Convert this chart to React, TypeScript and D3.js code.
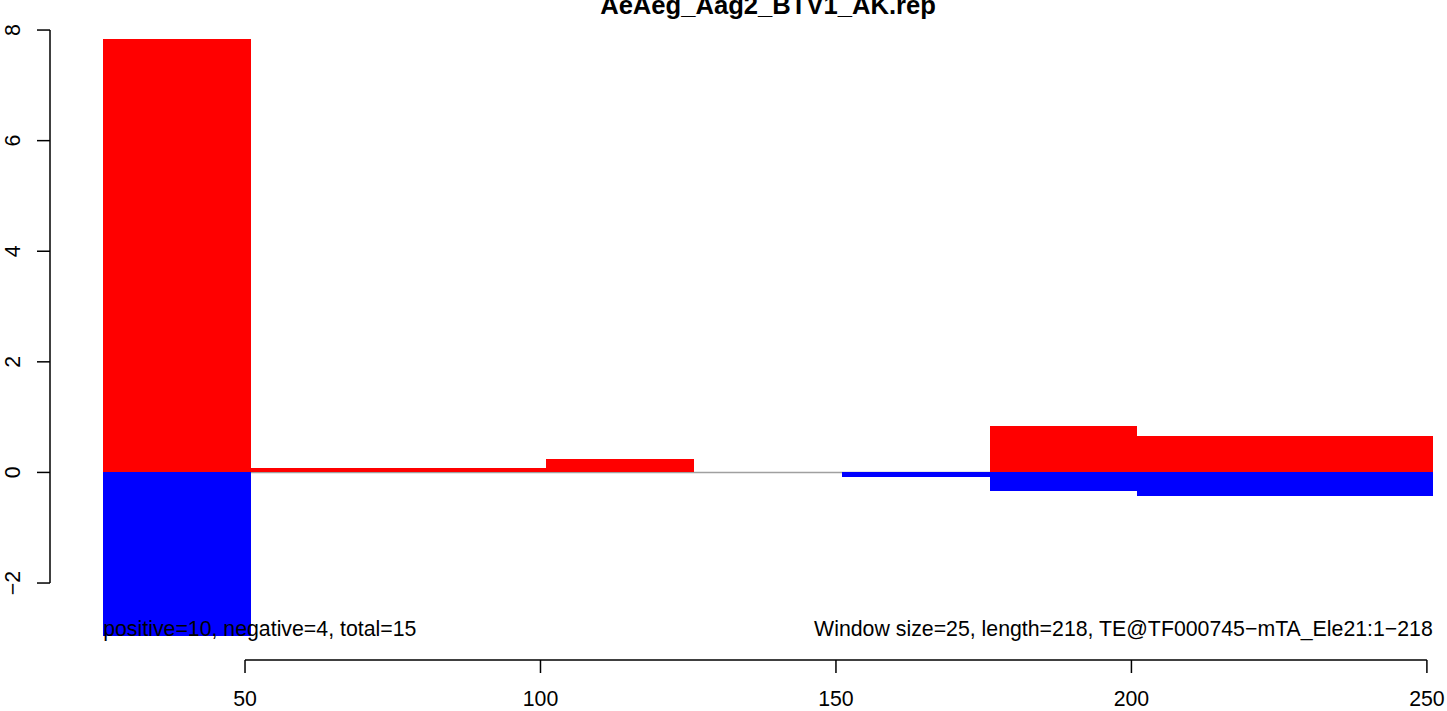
import React from "react";
import * as d3 from "d3";

const title = "AeAeg_Aag2_BTV1_AK.rep";
const windowStarts = [26, 51, 76, 101, 126, 151, 176, 201, 226];
const windowSize = 25;
const positiveValues = [7.84, 0.085, 0.085, 0.247, 0, 0, 0.844, 0.663, 0.663];
const negativeValues = [-2.96, 0, 0, 0, 0, -0.09, -0.343, -0.434, -0.434];
const xTicks = [50, 100, 150, 200, 250];
const yTicks = [-2, 0, 2, 4, 6, 8];
const leftNote = "positive=10, negative=4, total=15";
const rightNote = "Window size=25, length=218, TE@TF000745\u2212mTA_Ele21:1\u2212218";

const W = 1447;
const H = 711;
const FONT = "'Liberation Sans', Arial, Helvetica, sans-serif";

export default function App() {
  const xMin = d3.min(windowStarts)!;
  const xMax = d3.max(windowStarts)! + windowSize;
  const xPad = (xMax - xMin) * 0.04;
  const yMin = d3.min(negativeValues)!;
  const yMax = d3.max(positiveValues)!;
  const yPad = (yMax - yMin) * 0.04;

  const plotLeft = 50;
  const plotRight = 1486;
  const plotTop = 15;
  const plotBottom = 660;

  const x = d3.scaleLinear().domain([xMin - xPad, xMax + xPad]).range([plotLeft, plotRight]);
  const y = d3.scaleLinear().domain([yMin - yPad, yMax + yPad]).range([plotBottom, plotTop]);

  const fs = 21.3;

  return (
    <svg
      width={W}
      height={H}
      style={{ position: "absolute", left: 0, top: 0, display: "block", background: "#fff" }}
      fontFamily={FONT}
    >
      <rect x={0} y={0} width={W} height={H} fill="#fff" />
      {/* title */}
      <text x={(plotLeft + plotRight) / 2} y={14} textAnchor="middle" fontWeight="bold" fontSize={25.6}>
        {title}
      </text>
      {/* zero line */}
      <line x1={x(xMin)} x2={x(xMax)} y1={y(0)} y2={y(0)} stroke="#a0a0a0" strokeWidth={1.5} />
      {/* bars */}
      {windowStarts.map((s, i) => (
        <g key={i}>
          {positiveValues[i] > 0 && (
            <rect
              x={x(s)}
              width={x(s + windowSize) - x(s)}
              y={y(positiveValues[i])}
              height={y(0) - y(positiveValues[i])}
              fill="#ff0000"
              shapeRendering="crispEdges"
            />
          )}
          {negativeValues[i] < 0 && (
            <rect
              x={x(s)}
              width={x(s + windowSize) - x(s)}
              y={y(0)}
              height={y(negativeValues[i]) - y(0)}
              fill="#0000ff"
              shapeRendering="crispEdges"
            />
          )}
        </g>
      ))}
      {/* annotations */}
      <text x={x(xMin)} y={y(yMin)} fontSize={fs} textAnchor="start">
        {leftNote}
      </text>
      <text x={x(xMax)} y={y(yMin)} fontSize={fs} textAnchor="end">
        {rightNote}
      </text>
      {/* y axis */}
      <g stroke="#000" strokeWidth={1.5} fill="none">
        <line x1={plotLeft} x2={plotLeft} y1={y(yTicks[0])} y2={y(yTicks[yTicks.length - 1])} />
        {yTicks.map((t) => (
          <line key={t} x1={plotLeft - 13} x2={plotLeft} y1={y(t)} y2={y(t)} />
        ))}
      </g>
      {yTicks.map((t) => (
        <text
          key={t}
          transform={`translate(20,${y(t)}) rotate(-90)`}
          textAnchor="middle"
          fontSize={fs}
        >
          {t < 0 ? `\u2212${Math.abs(t)}` : t}
        </text>
      ))}
      {/* x axis */}
      <g stroke="#000" strokeWidth={1.5} fill="none">
        <line x1={x(xTicks[0])} x2={x(xTicks[xTicks.length - 1])} y1={plotBottom} y2={plotBottom} />
        {xTicks.map((t) => (
          <line key={t} x1={x(t)} x2={x(t)} y1={plotBottom} y2={plotBottom + 13} />
        ))}
      </g>
      {xTicks.map((t) => (
        <text key={t} x={x(t)} y={706} textAnchor="middle" fontSize={fs}>
          {t}
        </text>
      ))}
    </svg>
  );
}
